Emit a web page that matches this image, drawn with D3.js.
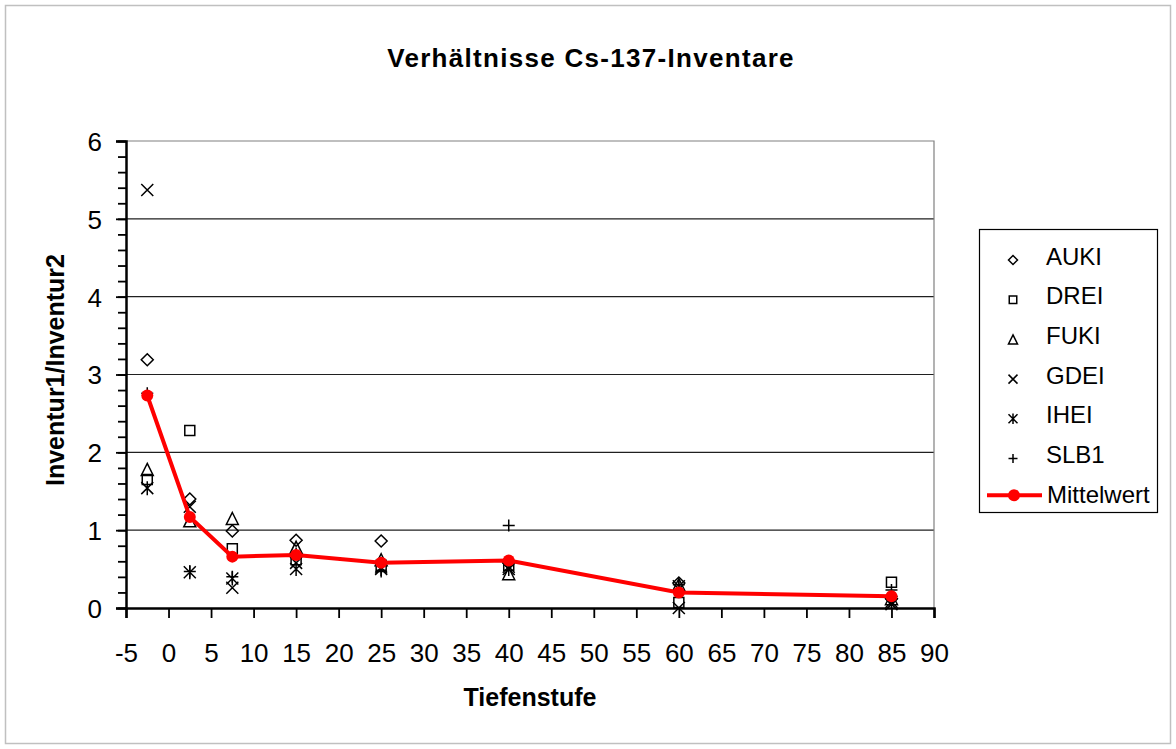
<!DOCTYPE html>
<html><head><meta charset="utf-8">
<script src="https://cdnjs.cloudflare.com/ajax/libs/d3/7.8.5/d3.min.js"></script>
<style>body{margin:0;background:#fff}svg{display:block}text{font-family:Arial,"Liberation Sans",sans-serif}</style>
</head><body>
<script>
const depths = [-2.5, 2.5, 7.5, 15, 25, 40, 60, 85];
const AUKI = [3.19, 1.40, 0.99, 0.87, 0.86, 0.58, 0.32, 0.12];
const DREI = [1.65, 2.28, 0.76, 0.62, 0.55, 0.55, 0.07, 0.33];
const FUKI = [1.78, 1.12, 1.15, 0.78, 0.62, 0.44, 0.30, 0.12];
const GDEI = [5.37, 1.30, 0.26, 0.58, 0.52, 0.53, 0.00, 0.05];
const IHEI = [1.54, 0.46, 0.38, 0.50, 0.50, 0.50, 0.28, 0.08];
const SLB1 = [2.76, 0.47, 0.40, 0.70, 0.47, 1.06, 0.30, 0.23];
const Mittelwert = [2.73, 1.17, 0.66, 0.68, 0.58, 0.61, 0.20, 0.15];
const seriesNames = ["AUKI", "DREI", "FUKI", "GDEI", "IHEI", "SLB1"];
const seriesValues = [AUKI, DREI, FUKI, GDEI, IHEI, SLB1];
const xTicks = d3.range(-5, 91, 5);
const yTicks = [0, 1, 2, 3, 4, 5, 6];

const W = 1176, H = 749;
const svg = d3.select("body").append("svg").attr("width", W).attr("height", H);
svg.append("rect").attr("x", 5.5).attr("y", 5.5).attr("width", W - 11).attr("height", H - 11)
  .attr("fill", "#fff").attr("stroke", "#c0c0c0").attr("stroke-width", 1.5);

const L = 126, R = 934, T = 141, B = 608;
const x = d3.scaleLinear().domain([-5, 90]).range([L, R]);
const y = d3.scaleLinear().domain([0, 6]).range([B, T]);

// gridlines
svg.append("g").selectAll("line").data(yTicks.filter(v => v > 0 && v < 6)).join("line")
  .attr("x1", L).attr("x2", R).attr("y1", d => y(d)).attr("y2", d => y(d))
  .attr("stroke", "#202020").attr("stroke-width", 1.2);
// top and right border
svg.append("path").attr("d", `M${L},${T}H${R}V${B}`).attr("fill", "none")
  .attr("stroke", "#808080").attr("stroke-width", 1.2);

const fmt = d => String(d);
// axes
const yAxis = d3.axisLeft(y).tickValues(yTicks).tickSize(10).tickFormat(fmt);
const gy = svg.append("g").attr("transform", `translate(${L},0)`).call(yAxis);
gy.select(".domain").attr("stroke", "#000").attr("stroke-width", 2.5);
gy.selectAll(".tick text").attr("font-size", 26).attr("x", -24).attr("dy", "0.36em").attr("fill", "#000");
gy.selectAll(".tick line").attr("stroke", "#000").attr("stroke-width", 1.8);
const yMinor = d3.axisLeft(y).tickValues(d3.range(0, 6.01, 0.2)).tickSize(8).tickFormat("");
const gym = svg.append("g").attr("transform", `translate(${L},0)`).call(yMinor);
gym.select(".domain").remove();
gym.selectAll(".tick line").attr("stroke", "#000").attr("stroke-width", 1.8);

const xAxis = d3.axisBottom(x).tickValues(xTicks).tickSize(10).tickFormat(fmt);
const gx = svg.append("g").attr("transform", `translate(0,${B})`).call(xAxis);
gx.select(".domain").attr("stroke", "#000").attr("stroke-width", 2.5);
gx.selectAll(".tick line").attr("stroke", "#000").attr("stroke-width", 1.8);
gx.selectAll(".tick text").attr("font-size", 26).attr("y", 36).attr("fill", "#000");

// markers
const sz = 6, sq = 5;
const shapes = {
  AUKI: `M0,${-sz}L${sz},0L0,${sz}L${-sz},0Z`,
  DREI: `M${-sq},${-sq}H${sq}V${sq}H${-sq}Z`,
  FUKI: `M0,${-sz}L${sz},${sz}H${-sz}Z`,
  GDEI: `M${-sz},${-sz}L${sz},${sz}M${sz},${-sz}L${-sz},${sz}`,
  IHEI: `M${-sz},${-sz}L${sz},${sz}M${sz},${-sz}L${-sz},${sz}M0,${-sz - 1}V${sz + 1}`,
  SLB1: `M${-sz},0H${sz}M0,${-sz}V${sz}`
};
seriesNames.forEach((name, i) => {
  svg.append("g").selectAll("path").data(depths.map((d, j) => [d, seriesValues[i][j]])).join("path")
    .attr("transform", d => `translate(${x(d[0])},${y(d[1])})`)
    .attr("d", shapes[name]).attr("fill", "none").attr("stroke", "#000").attr("stroke-width", 1.5);
});

// mean line
const line = d3.line().x((d, j) => x(depths[j])).y(d => y(d));
svg.append("path").datum(Mittelwert).attr("d", line).attr("fill", "none")
  .attr("stroke", "#ff0000").attr("stroke-width", 4);
svg.append("g").selectAll("circle").data(Mittelwert).join("circle")
  .attr("cx", (d, j) => x(depths[j])).attr("cy", d => y(d)).attr("r", 6).attr("fill", "#ff0000");

// title and axis labels
svg.append("text").attr("x", 591).attr("y", 67).attr("text-anchor", "middle")
  .attr("font-size", 26).attr("font-weight", "bold").attr("letter-spacing", 1.3)
  .text("Verhältnisse Cs-137-Inventare");
svg.append("text").attr("x", 530).attr("y", 706).attr("text-anchor", "middle")
  .attr("font-size", 25).attr("font-weight", "bold").text("Tiefenstufe");
svg.append("text").attr("transform", "translate(64,370) rotate(-90)").attr("text-anchor", "middle")
  .attr("font-size", 25).attr("font-weight", "bold").text("Inventur1/Inventur2");

// legend
const lg = svg.append("g");
lg.append("rect").attr("x", 979.5).attr("y", 229.5).attr("width", 178).attr("height", 283)
  .attr("fill", "#fff").attr("stroke", "#000").attr("stroke-width", 1.2);
const ly0 = 256, lstep = 39.7;
const lsz = 0.75;
seriesNames.forEach((name, i) => {
  const yy = ly0 + i * lstep;
  lg.append("path").attr("transform", `translate(1013,${yy + 4}) scale(${lsz})`).attr("d", shapes[name])
    .attr("fill", "none").attr("stroke", "#000").attr("stroke-width", 2);
  lg.append("text").attr("x", 1046).attr("y", yy).attr("dy", "0.36em").attr("font-size", 24).text(name);
});
const my = ly0 + 6 * lstep;
lg.append("line").attr("x1", 987).attr("x2", 1042).attr("y1", my + 1).attr("y2", my + 1)
  .attr("stroke", "#ff0000").attr("stroke-width", 4);
lg.append("circle").attr("cx", 1014).attr("cy", my + 1).attr("r", 6).attr("fill", "#ff0000");
lg.append("text").attr("x", 1047).attr("y", my).attr("dy", "0.36em").attr("font-size", 24).text("Mittelwert");
</script>
</body></html>
